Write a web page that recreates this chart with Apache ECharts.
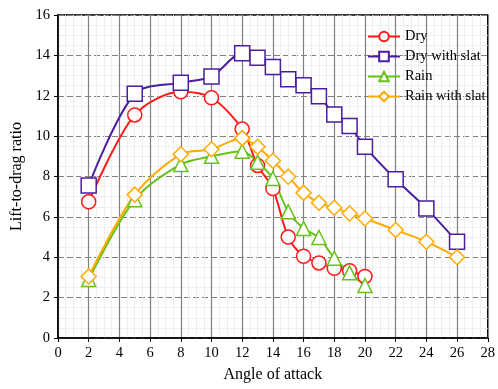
<!DOCTYPE html>
<html>
<head>
<meta charset="utf-8">
<script src="https://cdn.jsdelivr.net/npm/echarts@6/dist/echarts.min.js"></script>
<style>
    html, body { margin: 0; padding: 0; background: #fff; }
    #chart { width: 498px; height: 389px; }
</style>
</head>
<body>
<div id="chart"></div>
<script>
    // angle of attack / lift-to-drag ratio
    let dryAngles = [2, 5, 8, 10, 12, 13, 14, 15, 16, 17, 18, 19, 20];
    let dryValues = [6.75, 11.05, 12.2, 11.9, 10.35, 8.55, 7.4, 5.0, 4.05, 3.72, 3.45, 3.33, 3.05];

    let drySlatAngles = [2, 5, 8, 10, 12, 13, 14, 15, 16, 17, 18, 19, 20, 22, 24, 26];
    let drySlatValues = [7.55, 12.1, 12.65, 12.95, 14.1, 13.88, 13.43, 12.82, 12.52, 11.98, 11.07, 10.5, 9.47, 7.86, 6.42, 4.77];

    let rainAngles = [2, 5, 8, 10, 12, 13, 14, 15, 16, 17, 18, 19, 20];
    let rainValues = [2.9, 6.85, 8.6, 9.0, 9.25, 8.7, 7.9, 6.25, 5.43, 4.98, 3.95, 3.23, 2.6];

    let rainSlatAngles = [2, 5, 8, 10, 12, 13, 14, 15, 16, 17, 18, 19, 20, 22, 24, 26];
    let rainSlatValues = [3.05, 7.1, 9.1, 9.35, 9.9, 9.47, 8.78, 7.99, 7.19, 6.7, 6.45, 6.17, 5.92, 5.35, 4.77, 4.0];

    let font = 'Liberation Serif';

    function pairs(xs, ys) {
        return xs.map((x, i) => [x, ys[i]]);
    }

    function makeSeries(name, xs, ys, color, symbol, size) {
        return {
            name: name,
            type: 'line',
            data: pairs(xs, ys),
            smooth: 0.3,
            symbol: symbol,
            symbolSize: size,
            showAllSymbol: true,
            itemStyle: { color: '#fff', borderColor: color, borderWidth: 1.5 },
            lineStyle: { color: color, width: 2 },
            emphasis: { disabled: true }
        };
    }

    let myChart = echarts.init(document.getElementById('chart'));
    let option = {
        animation: false,
        textStyle: { fontFamily: font, color: '#000' },
        grid: { left: 58, right: 6, top: 15, bottom: 51, show: true, borderColor: '#000', borderWidth: 1.5 },
        legend: {
            orient: 'vertical',
            left: 362,
            top: 24,
            itemGap: 5,
            itemWidth: 32,
            itemHeight: 12,
            textStyle: { fontFamily: font, fontSize: 14.5, color: '#000' },
            data: ['Dry', 'Dry with slat', 'Rain', 'Rain with slat']
        },
        xAxis: {
            type: 'value',
            min: 0, max: 28, interval: 2,
            name: 'Angle of attack',
            nameLocation: 'middle',
            nameGap: 29,
            nameTextStyle: { fontFamily: font, fontSize: 16, color: '#000' },
            axisLine: { lineStyle: { color: '#000', width: 1.5 } },
            axisTick: { show: true, inside: false, length: 4, lineStyle: { color: '#000' } },
            axisLabel: { fontFamily: font, fontSize: 14.5, color: '#000', margin: 8 },
            splitLine: { show: true, lineStyle: { color: '#808080', width: 1.2 } },
            minorTick: { show: false, splitNumber: 4 },
            minorSplitLine: { show: true, lineStyle: { color: '#eee', width: 1 } }
        },
        yAxis: {
            type: 'value',
            min: 0, max: 16, interval: 2,
            name: 'Lift-to-drag ratio',
            nameLocation: 'middle',
            nameGap: 30,
            nameTextStyle: { fontFamily: font, fontSize: 16, color: '#000' },
            axisLine: { show: true, lineStyle: { color: '#000', width: 1.5 } },
            axisTick: { show: true, inside: false, length: 4, lineStyle: { color: '#000' } },
            axisLabel: { fontFamily: font, fontSize: 14.5, color: '#000', margin: 8 },
            splitLine: { show: true, lineStyle: { color: '#808080', width: 1.2, type: [6, 3] } },
            minorTick: { show: false, splitNumber: 4 },
            minorSplitLine: { show: true, lineStyle: { color: '#eee', width: 1 } }
        },
        series: [
            makeSeries('Dry', dryAngles, dryValues, '#ff1a1a', 'circle', 14),
            makeSeries('Dry with slat', drySlatAngles, drySlatValues, '#4a1e9e', 'rect', 15),
            makeSeries('Rain', rainAngles, rainValues, '#66c21a', 'triangle', 14),
            makeSeries('Rain with slat', rainSlatAngles, rainSlatValues, '#ffaa00', 'diamond', 15)
        ]
    };
    myChart.setOption(option);
</script>
</body>
</html>
